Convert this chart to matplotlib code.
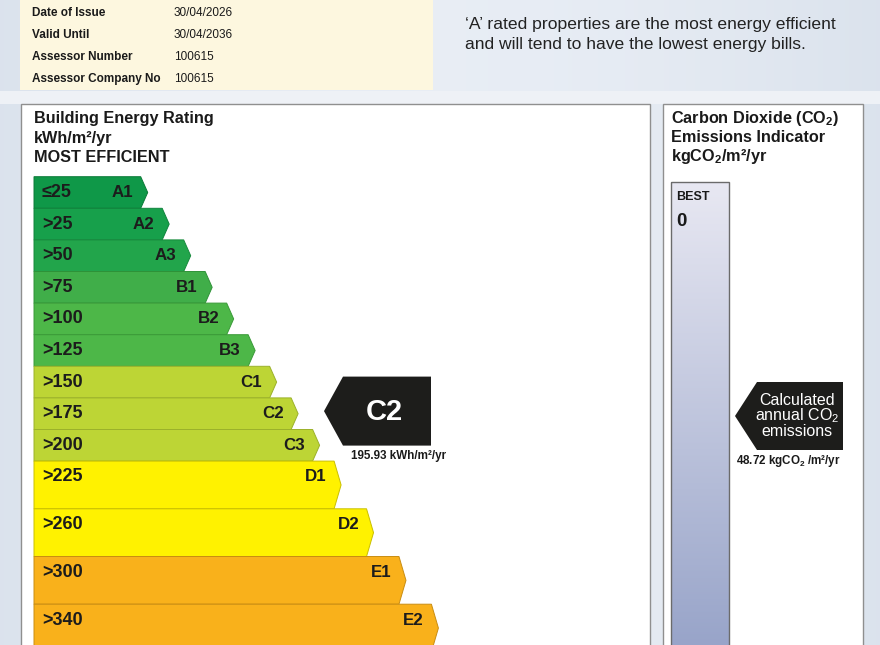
import matplotlib.pyplot as plt
from matplotlib.patches import Polygon, Rectangle
import numpy as np

plt.rcParams['font.family'] = ['Liberation Sans', 'DejaVu Sans']
plt.rcParams['mathtext.default'] = 'regular'

# certificate details
detail_labels = ['Date of Issue', 'Valid Until', 'Assessor Number', 'Assessor Company No']
detail_values = ['30/04/2026', '30/04/2036', '100615', '100615']

# energy bands
bands = ['A1', 'A2', 'A3', 'B1', 'B2', 'B3', 'C1', 'C2', 'C3', 'D1', 'D2', 'E1', 'E2']
band_limits = ['≤25', '>25', '>50', '>75', '>100', '>125', '>150', '>175', '>200',
               '>225', '>260', '>300', '>340']
band_colors = ['#0f9848', '#17a04b', '#22a54b', '#40ae49', '#4db748', '#4db748',
               '#bdd535', '#bdd535', '#bdd535', '#fff200', '#fff200', '#f9b11b', '#f9b11b']
band_edges = ['#0b7a38', '#0f833c', '#178a3c', '#2f9238', '#3a9a38', '#3a9a38',
              '#9bb12a', '#9bb12a', '#9bb12a', '#c9bf00', '#c9bf00', '#c98d12', '#c98d12']

rating_band = 'C2'
rating_value = 195.93
co2_value = 48.72
co2_best = 0

# layout (pixels)
W, H = 880, 645
bar_x0 = 34
row_top0 = 176.7
row_h = [31.6] * 9 + [47.7] * 4
first_end = 140.7
tip = 7

fig = plt.figure(figsize=(W / 100, H / 100), dpi=100)
ax = fig.add_axes([0, 0, 1, 1])
ax.set_xlim(0, W)
ax.set_ylim(H, 0)
ax.axis('off')

# background
grad = np.linspace(0, 1, 200)[None, :]
ax.imshow(np.dstack([0.86 + 0.05 * np.sin(np.pi * grad),
                     0.89 + 0.04 * np.sin(np.pi * grad),
                     0.93 + 0.03 * np.sin(np.pi * grad)]),
          extent=[0, W, H, 0], aspect='auto', zorder=0)
ax.add_patch(Rectangle((0, 91), W, 13, facecolor='#eef1f6', edgecolor='none', zorder=0.5))

# certificate detail box
ax.add_patch(Rectangle((20, -2), 413, 92, facecolor='#fdf7df', edgecolor='none', zorder=1))
for i, (lab, val) in enumerate(zip(detail_labels, detail_values)):
    y = 13 + 22 * i
    ax.text(32, y, lab, fontsize=8.5, fontweight='bold', color='#1a1a1a', va='center', zorder=2)
    ax.text(174, y, val, fontsize=8.5, color='#1a1a1a', va='center', zorder=2)

ax.text(465, 24, "‘A’ rated properties are the most energy efficient", fontsize=12.6,
        color='#222222', va='center')
ax.text(465, 44, "and will tend to have the lowest energy bills.", fontsize=12.6,
        color='#222222', va='center')

# panels
ax.add_patch(Rectangle((21, 104), 629, 560, facecolor='white', edgecolor='#8f8f8f', lw=1, zorder=1))
ax.add_patch(Rectangle((663, 104), 200, 560, facecolor='white', edgecolor='#8f8f8f', lw=1, zorder=1))

for i, line in enumerate(['Building Energy Rating', 'kWh/m²/yr', 'MOST EFFICIENT']):
    ax.text(34, 119 + 19 * i, line, fontsize=11.7, fontweight='bold', color='#1a1a1a',
            va='center', zorder=3)
for i, line in enumerate(['Carbon Dioxide (CO$_2$)', 'Emissions Indicator', 'kgCO$_2$/m²/yr']):
    ax.text(671, 119 + 19 * i, line, fontsize=11.7, fontweight='bold', color='#1a1a1a',
            va='center', zorder=3)


def arrow_shape(x0, x1, top, h, t):
    return [(x0, top), (x1, top), (x1 + t, top + h / 2), (x1, top + h), (x0, top + h)]


# energy rating bars
top = row_top0
end = first_end
tops = []
for i, band in enumerate(bands):
    h = row_h[i]
    if i > 0:
        end += 0.68 * row_h[i - 1]
    tops.append(top)
    ax.add_patch(Polygon(arrow_shape(bar_x0, end, top, h, tip), closed=True,
                         facecolor=band_colors[i], edgecolor=band_edges[i], lw=0.7, zorder=2))
    ax.text(bar_x0 + 8, top + 15.8, band_limits[i], fontsize=13, fontweight='bold',
            color='#1c1c1c', va='center', zorder=3)
    ax.text(end - 7.5, top + 15.8, band, fontsize=12.2, fontweight='bold',
            color='#1c1c1c', va='center', ha='right', zorder=3)
    top += h

# rating pointer
ri = bands.index(rating_band)
cy = tops[ri] + row_h[ri] / 2 - 2.6
ax.add_patch(Polygon([(324, cy), (343, cy - 34.5), (431, cy - 34.5), (431, cy + 34.5),
                      (343, cy + 34.5)], closed=True, facecolor='#1d1d1b', edgecolor='none',
                     zorder=3))
ax.text(384, cy + 0.5, rating_band, fontsize=21, fontweight='bold', color='white',
        ha='center', va='center', zorder=4)
ax.text(399, cy + 45, f'{rating_value:.2f} kWh/m²/yr', fontsize=8.4, fontweight='bold',
        color='#1a1a1a', ha='center', va='center', zorder=4)

# CO2 scale bar
cgrad = np.linspace(0, 1, 256)[:, None, None]
top_c = np.array([0.91, 0.91, 0.95])
bot_c = np.array([0.58, 0.63, 0.78])
ax.imshow(top_c + (bot_c - top_c) * cgrad, extent=[671, 729, 670, 182], aspect='auto', zorder=2)
ax.add_patch(Rectangle((671, 182), 58, 488, facecolor='none', edgecolor='#6b6b6b', lw=1, zorder=3))
ax.text(676, 197, 'BEST', fontsize=9, fontweight='bold', color='#1a1a1a', va='center', zorder=4)
ax.text(676, 221, str(co2_best), fontsize=13.5, fontweight='bold', color='#1a1a1a',
        va='center', zorder=4)

# CO2 pointer
ky = 416
ax.add_patch(Polygon([(735, ky), (757, ky - 34), (843, ky - 34), (843, ky + 34),
                      (757, ky + 34)], closed=True, facecolor='#1d1d1b', edgecolor='none',
                     zorder=3))
ax.text(797, ky, 'Calculated\nannual CO$_2$\nemissions', fontsize=11.5, color='white',
        ha='center', va='center', linespacing=0.92, zorder=4)
ax.text(788, ky + 45, f'{co2_value:.2f} kgCO$_2$ /m²/yr', fontsize=8.4, fontweight='bold',
        color='#1a1a1a', ha='center', va='center', zorder=4)

fig.savefig('out.png', dpi=100)
